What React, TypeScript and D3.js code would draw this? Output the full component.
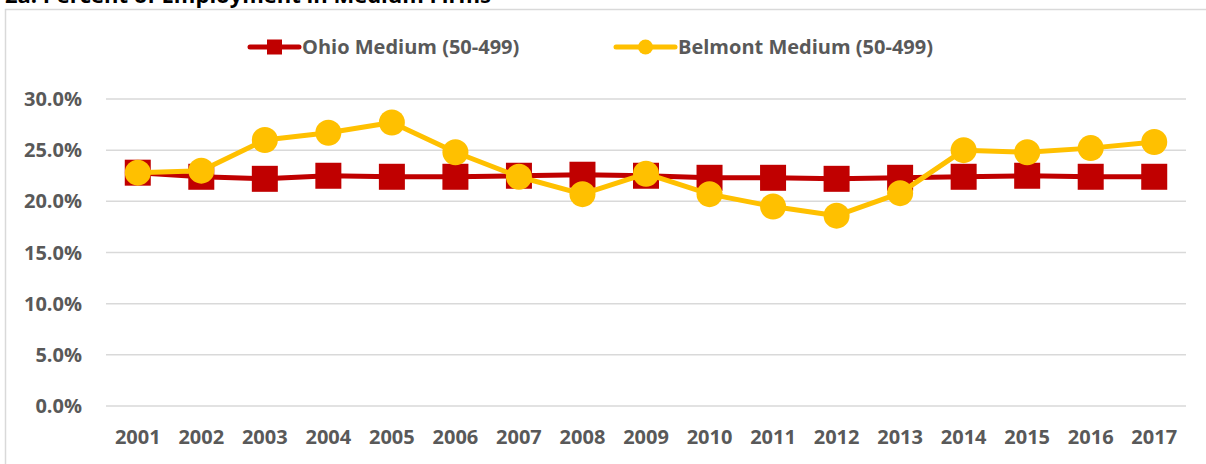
import * as d3 from "d3";
import { useEffect, useRef } from "react";

const WIDTH = 1206;
const HEIGHT = 464;
const MARGIN = { top: 99, right: 20, bottom: 58, left: 106 };

const YEARS = [
  "2001", "2002", "2003", "2004", "2005", "2006", "2007", "2008", "2009",
  "2010", "2011", "2012", "2013", "2014", "2015", "2016", "2017",
];
const OHIO = [
  0.228, 0.224, 0.222, 0.225, 0.224, 0.224, 0.225, 0.226, 0.225,
  0.223, 0.223, 0.222, 0.223, 0.224, 0.225, 0.224, 0.224,
];
const BELMONT = [
  0.228, 0.230, 0.260, 0.267, 0.277, 0.248, 0.224, 0.207, 0.227,
  0.207, 0.195, 0.186, 0.208, 0.250, 0.248, 0.252, 0.258,
];
const Y_TICKS = [0, 0.05, 0.1, 0.15, 0.2, 0.25, 0.3];
const SERIES_NAMES = ["Ohio Medium (50-499)", "Belmont Medium (50-499)"];
const TITLE = "2a: Percent of Employment in Medium Firms";

const RED = "#C00000";
const GOLD = "#FFC000";
const TEXT = "#595959";
const FONT = "'Open Sans', 'Liberation Sans', sans-serif";
const FS = 20;

const App = () => {
  const svgRef = useRef<SVGSVGElement>(null);

  useEffect(() => {
    if (!svgRef.current) return;
    const svg = d3.select(svgRef.current);
    svg.selectAll("*").remove();

    const innerW = WIDTH - MARGIN.left - MARGIN.right;
    const innerH = 406 - MARGIN.top;

    const x = d3
      .scalePoint<string>()
      .domain(YEARS)
      .range([MARGIN.left, MARGIN.left + innerW])
      .padding(0.5);
    const y = d3
      .scaleLinear()
      .domain([0, 0.3])
      .range([MARGIN.top + innerH, MARGIN.top]);

    svg.append("rect").attr("width", WIDTH).attr("height", HEIGHT).attr("fill", "#fff");

    // title, clipped at the top edge like the source
    svg
      .append("text")
      .attr("x", 5)
      .attr("y", 3)
      .attr("font-family", FONT)
      .attr("font-weight", 700)
      .attr("font-size", 22)
      .attr("fill", "#000")
      .text(TITLE);

    // chart frame
    svg
      .append("rect")
      .attr("x", 5.5)
      .attr("y", 9.5)
      .attr("width", WIDTH + 10)
      .attr("height", HEIGHT + 10)
      .attr("fill", "#fff")
      .attr("stroke", "#d9d9d9")
      .attr("stroke-width", 1.5);

    // gridlines + y labels
    const yAxis = svg.append("g");
    Y_TICKS.forEach((t) => {
      yAxis
        .append("line")
        .attr("x1", MARGIN.left)
        .attr("x2", MARGIN.left + innerW)
        .attr("y1", y(t))
        .attr("y2", y(t))
        .attr("stroke", "#d9d9d9")
        .attr("stroke-width", 1.5);
      yAxis
        .append("text")
        .attr("x", 82)
        .attr("y", y(t))
        .attr("dy", "0.35em")
        .attr("text-anchor", "end")
        .attr("font-family", FONT)
        .attr("font-weight", 700)
        .attr("font-size", FS)
        .attr("fill", TEXT)
        .text(d3.format(".1%")(t));
    });

    // x labels
    svg
      .append("g")
      .selectAll("text")
      .data(YEARS)
      .join("text")
      .attr("x", (d) => x(d) as number)
      .attr("y", 437)
      .attr("dy", "0.35em")
      .attr("text-anchor", "middle")
      .attr("font-family", FONT)
      .attr("font-weight", 700)
      .attr("font-size", FS)
      .attr("fill", TEXT)
      .text((d) => d);

    const line = d3
      .line<number>()
      .x((_, i) => x(YEARS[i]) as number)
      .y((d) => y(d));

    // Ohio
    svg
      .append("path")
      .datum(OHIO)
      .attr("fill", "none")
      .attr("stroke", RED)
      .attr("stroke-width", 5)
      .attr("stroke-linejoin", "round")
      .attr("d", line);
    const sq = 26;
    svg
      .append("g")
      .selectAll("rect")
      .data(OHIO)
      .join("rect")
      .attr("x", (_, i) => (x(YEARS[i]) as number) - sq / 2)
      .attr("y", (d) => y(d) - sq / 2)
      .attr("width", sq)
      .attr("height", sq)
      .attr("fill", RED);

    // Belmont
    svg
      .append("path")
      .datum(BELMONT)
      .attr("fill", "none")
      .attr("stroke", GOLD)
      .attr("stroke-width", 5)
      .attr("stroke-linejoin", "round")
      .attr("d", line);
    svg
      .append("g")
      .selectAll("circle")
      .data(BELMONT)
      .join("circle")
      .attr("cx", (_, i) => x(YEARS[i]) as number)
      .attr("cy", (d) => y(d))
      .attr("r", 13)
      .attr("fill", GOLD);

    // legend
    const legend = svg.append("g");
    const items = [
      { name: SERIES_NAMES[0], color: RED, x0: 250, x1: 299, shape: "square" },
      { name: SERIES_NAMES[1], color: GOLD, x0: 616, x1: 675, shape: "circle" },
    ];
    const ly = 47;
    items.forEach((it) => {
      legend
        .append("line")
        .attr("x1", it.x0)
        .attr("x2", it.x1)
        .attr("y1", ly)
        .attr("y2", ly)
        .attr("stroke", it.color)
        .attr("stroke-width", 5)
        .attr("stroke-linecap", "round");
      const cx = (it.x0 + it.x1) / 2;
      if (it.shape === "square") {
        legend
          .append("rect")
          .attr("x", cx - 7.5)
          .attr("y", ly - 7.5)
          .attr("width", 15)
          .attr("height", 15)
          .attr("fill", it.color);
      } else {
        legend
          .append("circle")
          .attr("cx", cx)
          .attr("cy", ly)
          .attr("r", 7.5)
          .attr("fill", it.color);
      }
      legend
        .append("text")
        .attr("x", it.x1 + 3)
        .attr("y", ly)
        .attr("dy", "0.35em")
        .attr("font-family", FONT)
        .attr("font-weight", 700)
        .attr("font-size", FS)
        .attr("fill", TEXT)
        .text(it.name);
    });
  }, []);

  return (
    <svg
      ref={svgRef}
      width={WIDTH}
      height={HEIGHT}
      style={{ position: "absolute", left: 0, top: 0, display: "block" }}
    />
  );
};

export default App;
